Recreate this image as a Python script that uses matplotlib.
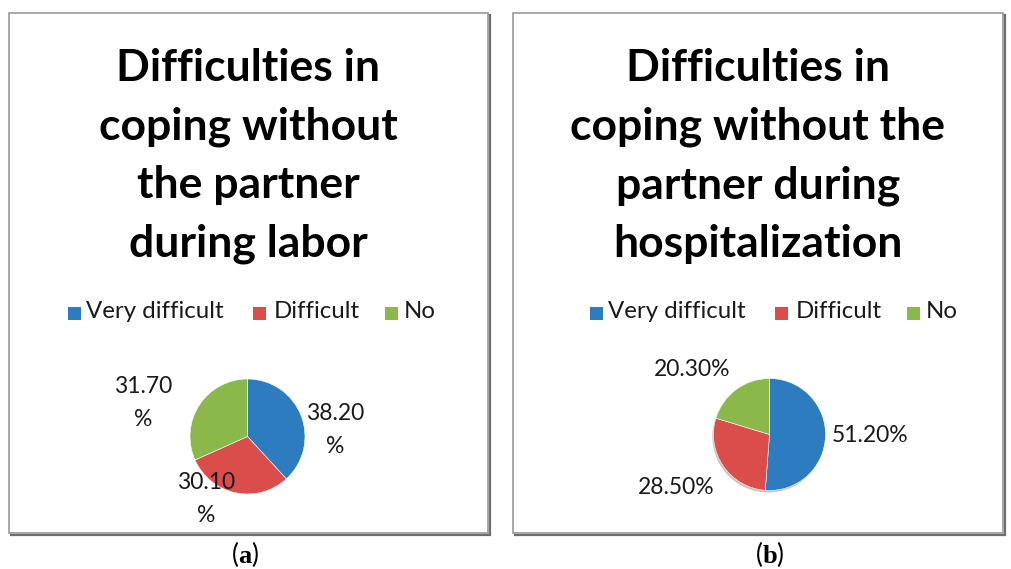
import matplotlib
matplotlib.use("Agg")
from matplotlib import pyplot as plt
from matplotlib.patches import Rectangle, Circle

# data
categories = ["Very difficult", "Difficult", "No"]
labor_vals = [38.2, 30.1, 31.7]
hosp_vals = [51.2, 28.5, 20.3]
labor_labels = ["38.20\n%", "30.10\n%", "31.70\n%"]
hosp_labels = ["51.20%", "28.50%", "20.30%"]
title_a = "Difficulties in\ncoping without\nthe partner\nduring labor"
title_b = "Difficulties in\ncoping without the\npartner during\nhospitalization"
colors = ["#2E7CC0", "#DB4D4A", "#8AB84A"]

W, H = 1011, 569
plt.rcParams['font.family'] = ['Lato', 'DejaVu Sans']
plt.rcParams['mathtext.fontset'] = 'custom'
plt.rcParams['mathtext.bf'] = 'Liberation Serif:bold'
plt.rcParams['mathtext.rm'] = 'Liberation Serif'

fig = plt.figure(figsize=(W / 100, H / 100), dpi=100)


def fx(px):
    return px / W


def fy(py):
    return 1 - py / H


def panel(x0, x1, title, vals, labels, lab_pos, center, r, leg_sq, leg_tx,
          caption, cap_x, shadow=False):
    # frame with a soft shadow
    fig.patches.append(Rectangle((fx(x0 + 2), fy(535)), fx(x1 - x0), (533 - 13) / H,
                                 transform=fig.transFigure, fill=False,
                                 edgecolor="#6e6e6e", lw=1.6, zorder=-3))
    fig.patches.append(Rectangle((fx(x0), fy(533)), fx(x1 - x0), (533 - 13) / H,
                                 transform=fig.transFigure, facecolor="white",
                                 edgecolor="#a0a0a0", lw=1.3, zorder=-2))
    cx = (x0 + x1) / 2
    fig.text(fx(cx), fy(156), title, ha="center", va="center", fontsize=32,
             fontweight="bold", linespacing=1.56, color="black")
    # legend
    for name, c, sx, tx in zip(categories, colors, leg_sq, leg_tx):
        fig.patches.append(Rectangle((fx(sx), fy(320)), fx(13), 13 / H,
                                     transform=fig.transFigure, facecolor=c,
                                     edgecolor="none", zorder=3))
        fig.text(fx(tx), fy(312), name, ha="left", va="center",
                 fontsize=17.3, color="#1a1a1a")
    # pie
    ccx, ccy = center
    ax = fig.add_axes([fx(ccx - r - 3), fy(ccy + r + 3), fx(2 * r + 6), (2 * r + 6) / H])
    if shadow:
        ax.add_patch(Circle((-0.02, -0.035), 1.0, facecolor="#555555",
                            edgecolor="none", alpha=0.35, zorder=0))
    ax.pie(vals, colors=colors, startangle=90, counterclock=False,
           wedgeprops=dict(edgecolor="white", linewidth=0.4, zorder=1))
    lim = (r + 3) / r
    ax.set_xlim(-lim, lim)
    ax.set_ylim(-lim, lim)
    ax.set_aspect("equal")
    ax.axis("off")
    for lab, (px, py) in zip(labels, lab_pos):
        fig.text(fx(px), fy(py), lab, ha="center", va="center", fontsize=16.5,
                 color="#1a1a1a", linespacing=1.65)
    fig.text(fx(cap_x), fy(554), caption, ha="center", va="center", fontsize=19)


panel(9, 488, title_a, labor_vals, labor_labels,
      [(335, 430), (206, 499), (143, 403)], (247.5, 436.5), 57.5,
      [68, 253, 385], [86, 274, 404], r"($\mathbf{a}$)", 245)
panel(513, 1003, title_b, hosp_vals, hosp_labels,
      [(870, 436), (676, 488), (692, 370)], (769.5, 434.5), 56,
      [590, 775, 907], [608, 796, 926], r"($\mathbf{b}$)", 770, shadow=True)

fig.savefig("out.png", dpi=100)
